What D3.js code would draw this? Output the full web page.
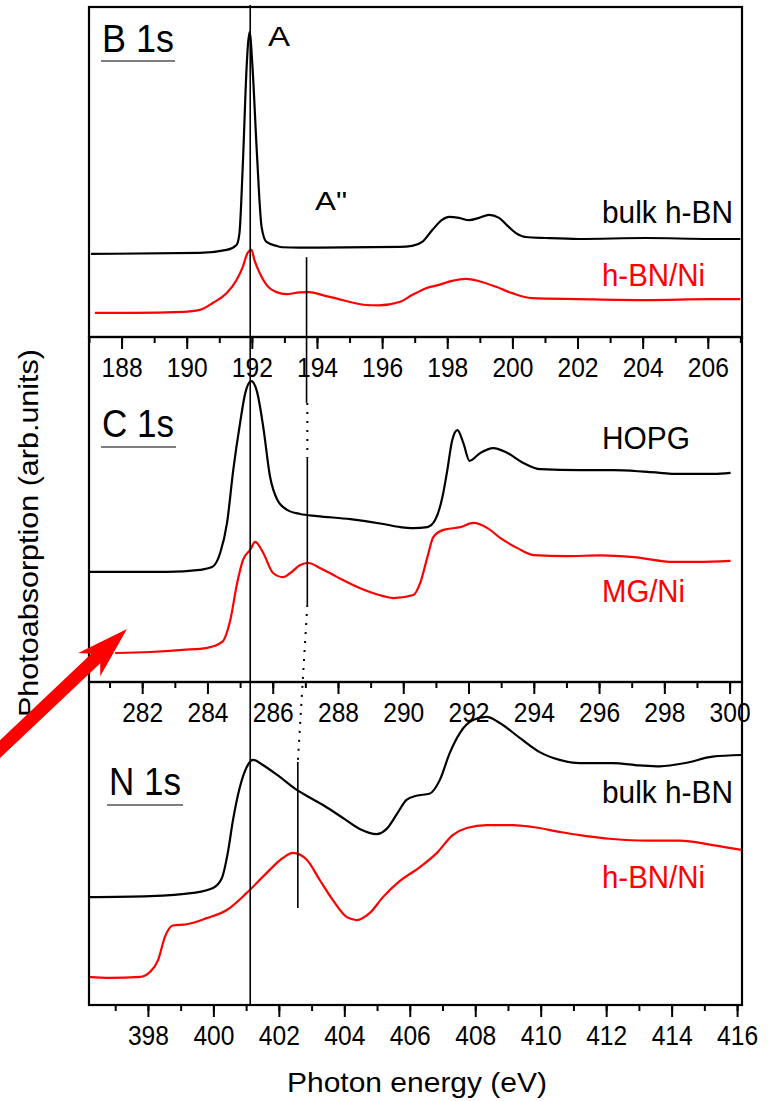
<!DOCTYPE html>
<html><head><meta charset="utf-8">
<script src="https://cdn.jsdelivr.net/npm/d3@7"></script>
<style>body{margin:0;background:#fff} svg{display:block} text{font-family:"Liberation Sans",Arial,Helvetica,sans-serif}</style>
</head><body><svg id="c" width="772" height="1101"></svg>
<script>
// ---------------- DATA ----------------
// B 1s edge
const bBulkE = [187.06,190.40,191.23,191.53,191.62,191.72,191.84,191.88,191.93,192.02,192.15,192.30,192.45,192.76,192.94,193.46,196.53,196.92,197.23,197.54,197.84,198.06,198.36,198.67,198.98,199.28,199.59,199.83,200.11,200.41,201.03,202.04,204.09,206.11,207.0];
const bBulkI = [25.2,25.5,26.4,27.9,31.5,51.5,81.8,88.5,92.4,81.8,56.7,33.3,28.8,27.6,27.2,27.1,27.3,27.6,28.8,32.4,35.5,36.4,36.1,35.4,36.1,37.0,36.1,33.9,31.5,30.3,30.0,29.7,30.0,29.7,29.7];
const bNiE = [187.18,188.35,189.88,190.40,190.80,191.23,191.53,191.72,191.87,191.99,192.08,192.24,192.45,192.76,193.06,193.46,193.77,194.17,194.78,195.51,195.91,196.53,196.92,197.35,197.75,198.15,198.58,198.98,199.50,199.99,200.60,202.04,204.09,206.11,207.0];
const bNiI = [7.3,7.3,7.6,8.2,10.3,13.3,17.3,21.2,25.5,26.4,23.3,19.4,15.8,13.6,13.0,13.5,13.6,12.7,11.2,9.7,9.6,10.6,12.7,14.8,15.8,17.0,17.6,16.9,15.2,13.3,11.8,11.5,11.2,11.5,11.5];
// C 1s edge
const cHopgE = [280.40,282.76,283.77,284.14,284.39,284.60,284.79,285.0,285.16,285.34,285.52,285.71,285.92,286.14,286.44,286.84,287.36,288.38,289.39,289.91,290.31,290.74,290.98,291.20,291.35,291.50,291.66,291.84,292.03,292.36,292.76,293.19,293.68,294.20,295.43,296.44,297.49,298.50,299.51,300.03];
const cHopgI = [31.9,31.9,32.5,33.3,37.4,46.1,61.4,75.1,83.8,87.2,84.1,73.9,59.4,52.8,49.9,48.7,48.1,47.2,45.8,44.9,44.6,44.9,47.0,53.6,61.4,70.1,73.0,69.3,64.1,66.4,67.8,66.4,63.5,61.7,61.4,61.4,60.9,60.3,60.3,60.6];
const cMgE = [281.17,282.24,283.25,283.99,284.45,284.70,284.91,285.09,285.31,285.46,285.71,286.01,286.32,286.54,286.84,287.09,287.46,287.98,288.68,289.39,289.70,290.31,290.52,290.74,290.92,291.23,291.75,292.15,292.58,292.98,293.50,293.99,295.03,296.04,297.06,298.28,299.02,300.03];
const cMgI = [8.4,8.7,9.3,9.9,11.6,18.0,28.7,35.4,38.3,40.6,37.4,31.6,30.4,31.6,33.9,34.5,33.0,30.4,27.2,24.9,24.3,25.2,28.7,36.2,42.0,44.1,44.9,46.1,44.6,41.7,38.8,36.8,36.5,36.7,36.2,34.8,34.8,35.1];
// N 1s edge
const nBulkE = [396.17,398.06,399.38,399.99,400.26,400.44,400.60,400.81,401.02,401.21,401.51,402.03,402.55,402.86,403.35,403.96,404.47,404.99,405.30,405.60,405.90,406.20,406.60,406.92,407.22,407.53,407.93,408.35,408.75,409.36,409.97,410.58,411.19,412.20,413.02,413.64,414.46,415.25,416.14];
const nBulkI = [33.4,33.7,34.7,36.2,39.3,47.1,57.3,67.5,73.7,75.9,74.3,70.6,66.6,64.7,61.9,57.9,54.5,52.9,54.6,59.0,63.5,64.8,65.4,69.7,78.0,84.2,88.2,89.2,87.3,82.7,78.3,75.9,74.9,74.9,74.2,73.9,75.0,76.9,77.4];
const nNiE = [396.17,396.84,397.76,398.06,398.31,398.52,398.76,399.19,399.80,400.41,401.02,401.63,402.12,402.43,402.86,403.25,403.65,404.08,404.38,404.78,405.18,405.70,406.31,406.83,407.31,407.74,408.35,409.15,409.76,410.58,411.19,412.20,413.24,414.25,415.25,416.14];
const nNiI = [8.7,8.4,8.7,10.2,13.9,21.1,24.6,25.0,26.9,29.4,34.7,40.9,45.5,47.1,44.9,38.7,32.5,27.2,26.3,28.5,33.4,38.4,42.7,47.1,52.6,54.8,55.7,55.7,55.1,53.6,52.6,51.4,50.9,50.9,49.5,48.0];

const bTicks = [188,190,192,194,196,198,200,202,204,206];
const cTicks = [282,284,286,288,290,292,294,296,298,300];
const nTicks = [398,400,402,404,406,408,410,412,414,416];
const bDomain = [187, 207.05], cDomain = [280.37, 300.38], nDomain = [396.2, 416.15];

const panelTitles = ["B 1s", "C 1s", "N 1s"];
const seriesNames = [["bulk h-BN","h-BN/Ni"],["HOPG","MG/Ni"],["bulk h-BN","h-BN/Ni"]];
// feature markers (energies in each edge)
const peakA = 191.95;            // A (B 1s)
const peakA2 = [193.68, 287.06, 402.58]; // A'' in B, C, N

// ---------------- LAYOUT ----------------
const L = 89, R = 742;
const layout = [
  {top:7, bottom:337, domain:bDomain, ticks:bTicks, series:[[bBulkE,bBulkI],[bNiE,bNiI]]},
  {top:337, bottom:682, domain:cDomain, ticks:cTicks, series:[[cHopgE,cHopgI],[cMgE,cMgI]]},
  {top:682, bottom:1005, domain:nDomain, ticks:nTicks, series:[[nBulkE,nBulkI],[nNiE,nNiI]]}
];
const colors = ["#000000", "#ff0000"];
const svg = d3.select("#c");

function txt(g, s, x, y, size, width, color, anchor) {
  const t = g.append("text").attr("x", x).attr("y", y)
    .style("font-size", size + "px").attr("fill", color || "#000")
    .attr("text-anchor", anchor || "start").text(s);
  if (width) t.attr("textLength", width).attr("lengthAdjust", "spacingAndGlyphs");
  return t;
}

layout.forEach((p, i) => {
  p.x = d3.scaleLinear().domain(p.domain).range([L, R]);
  p.y = d3.scaleLinear().domain([0, 100]).range([p.bottom, p.top]);
  const g = svg.append("g");
  p.series.forEach((s, k) => {
    const pts = s[0].map((e, j) => [e, s[1][j]]);
    g.append("path").datum(pts)
      .attr("d", d3.line().x(d => p.x(d[0])).y(d => p.y(d[1])).curve(d3.curveMonotoneX))
      .attr("fill", "none").attr("stroke", colors[k]).attr("stroke-width", 2.2)
      .attr("stroke-linejoin", "round");
  });
});

// frames and axes
layout.forEach((p, i) => {
  const g = svg.append("g");
  g.append("rect").attr("x", L).attr("y", p.top).attr("width", R - L).attr("height", p.bottom - p.top)
    .attr("fill", "none").attr("stroke", "#000").attr("stroke-width", 2.2);
  const minor = d3.range(Math.ceil(p.domain[0]), Math.floor(p.domain[1]) + 1);
  const gm = g.append("g").attr("transform", `translate(0,${p.bottom})`)
    .call(d3.axisBottom(p.x).tickValues(minor).tickSize(6).tickFormat(""));
  gm.select(".domain").remove();
  gm.selectAll("line").attr("stroke-width", 2);
  const ga = g.append("g").attr("transform", `translate(0,${p.bottom})`)
    .call(d3.axisBottom(p.x).tickValues(p.ticks).tickSize(12).tickPadding(8).tickFormat(d3.format("d")));
  ga.select(".domain").remove();
  ga.selectAll("line").attr("stroke-width", 2);
  ga.selectAll("text").style("font-size", "28px").attr("fill", "#000")
    .style("font-family", '"Liberation Sans",Arial,sans-serif')
    .attr("textLength", 41).attr("lengthAdjust", "spacingAndGlyphs");
});

// feature marker lines
const [pB, pC, pN] = layout;
const mk = svg.append("g").attr("stroke", "#000").attr("fill", "none");
mk.append("line").attr("x1", pB.x(peakA)).attr("x2", pB.x(peakA)).attr("y1", pB.y(100.6)).attr("y2", pN.bottom).attr("stroke-width", 1.6);
mk.append("line").attr("x1", pB.x(peakA2[0])).attr("x2", pB.x(peakA2[0])).attr("y1", pB.y(24.2)).attr("y2", pC.y(80.9)).attr("stroke-width", 1.6);
mk.append("line").attr("x1", pC.x(peakA2[1])).attr("x2", pC.x(peakA2[1])).attr("y1", pC.y(80.9)).attr("y2", pC.y(64.9)).attr("stroke-width", 2).attr("stroke-dasharray", "2,7");
mk.append("line").attr("x1", pC.x(peakA2[1])).attr("x2", pC.x(peakA2[1])).attr("y1", pC.y(64.9)).attr("y2", pC.y(22.3)).attr("stroke-width", 1.6);
mk.append("line").attr("x1", pC.x(peakA2[1])).attr("x2", pN.x(peakA2[2])).attr("y1", pC.y(22.3)).attr("y2", pN.y(75.2)).attr("stroke-width", 2).attr("stroke-dasharray", "2,7");
mk.append("line").attr("x1", pN.x(peakA2[2])).attr("x2", pN.x(peakA2[2])).attr("y1", pN.y(75.2)).attr("y2", pN.y(30.0)).attr("stroke-width", 1.6);

// texts
const tg = svg.append("g");
const titlePos = [[102, 52, 61, 101, 175], [102, 437, 447, 101, 176], [109, 795, 805, 107, 183]];
panelTitles.forEach((t, i) => {
  const q = titlePos[i];
  txt(tg, t, q[0], q[1], 38, 72);
  tg.append("line").attr("x1", q[3]).attr("x2", q[4]).attr("y1", q[2]).attr("y2", q[2])
    .attr("stroke", "#555").attr("stroke-width", 1.5);
});
txt(tg, "A", 268, 46, 27, 22);
txt(tg, 'A"', 315, 210, 26, 32);
const lblBase = [[223, 286], [449, 602], [803, 888]];
const lblW = [[131, 103], [88, 83], [131, 103]];
seriesNames.forEach((ns, i) => ns.forEach((n, k) => txt(tg, n, 602, lblBase[i][k], 32, lblW[i][k], colors[k])));
txt(tg, "Photon energy (eV)", 417, 1092, 28, 260, "#000", "middle");
txt(tg, "Photoabsorption (arb.units)", 0, 0, 28, 368, "#000", "middle")
  .attr("transform", "translate(38,533) rotate(-90)");

// red arrow
const tip = [127, 629], u = [0.726, -0.687], n = [0.687, 0.726];
const at = (a, b) => [tip[0] - a * u[0] + b * n[0], tip[1] - a * u[1] + b * n[1]];
const arrow = [tip, at(52, 16), at(43, 6.5), at(220, 6.5), at(220, -6.5), at(43, -6.5), at(52, -16)];
svg.append("polygon").attr("points", arrow.map(d => d.join(",")).join(" ")).attr("fill", "#ff0000");
</script></body></html>
